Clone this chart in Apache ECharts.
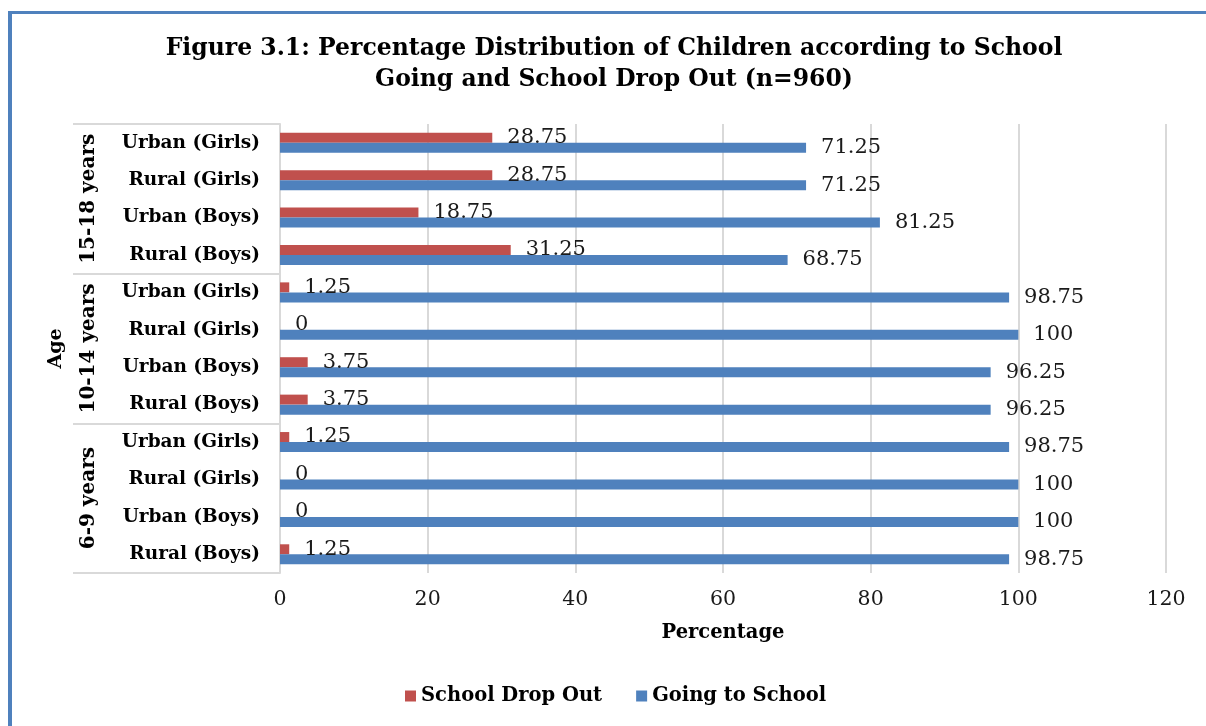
<!DOCTYPE html>
<html>
<head>
<meta charset="utf-8">
<title>Figure 3.1</title>
<script src="https://cdn.jsdelivr.net/npm/echarts@6/dist/echarts.min.js"></script>
<style>
  html, body { margin: 0; padding: 0; background: #fff; }
  #chart { width: 1206px; height: 726px; }
  #frame {
    position: absolute; left: 8px; top: 11px; width: 1198px; height: 715px;
    border-left: 4px solid #4F81BD; border-top: 3px solid #4F81BD;
    box-sizing: border-box; pointer-events: none;
  }
</style>
</head>
<body>
<div id="chart"></div>
<div id="frame"></div>
<script>
// rows listed top to bottom
const categories = [
  'Urban (Girls)', 'Rural (Girls)', 'Urban (Boys)', 'Rural (Boys)',
  'Urban (Girls)', 'Rural (Girls)', 'Urban (Boys)', 'Rural (Boys)',
  'Urban (Girls)', 'Rural (Girls)', 'Urban (Boys)', 'Rural (Boys)'
]
const ageGroups = ['15-18 years', '10-14 years', '6-9 years']
const dropOut = [28.75, 28.75, 18.75, 31.25, 1.25, 0, 3.75, 3.75, 1.25, 0, 0, 1.25]
const goingToSchool = [71.25, 71.25, 81.25, 68.75, 98.75, 100, 96.25, 96.25, 98.75, 100, 100, 98.75]
const xTicks = { min: 0, max: 120, interval: 20 }

const FONT = 'DejaVu Serif'
const chart = echarts.init(document.getElementById('chart'))

const labelStyle = {
  show: true,
  position: 'right',
  distance: 15,
  fontFamily: FONT,
  fontSize: 21,
  color: '#1a1a1a',
}

chart.setOption({
  backgroundColor: '#fff',
  title: {
    text: 'Figure 3.1: Percentage Distribution of Children according to School\nGoing and School Drop Out (n=960)',
    left: 609,
    top: 28,
    textAlign: 'center',
    textVerticalAlign: 'top',
    textStyle: {
      fontFamily: FONT,
      fontSize: 23.5,
      fontWeight: 'bold',
      lineHeight: 31,
      color: '#000',
    },
  },
  legend: {
    data: ['School Drop Out', 'Going to School'],
    top: 681,
    left: 400,
    icon: 'rect',
    itemWidth: 11,
    itemHeight: 11,
    itemGap: 34,
    textStyle: { fontFamily: FONT, fontSize: 19.5, fontWeight: 'bold', color: '#000' },
  },
  grid: { left: 280, right: 40, top: 124, bottom: 153 },
  xAxis: {
    type: 'value',
    min: xTicks.min,
    max: xTicks.max,
    interval: xTicks.interval,
    name: 'Percentage',
    nameLocation: 'middle',
    nameGap: 50,
    nameTextStyle: { fontFamily: FONT, fontSize: 19.5, fontWeight: 'bold', color: '#000' },
    axisLine: { show: false },
    axisTick: { show: false },
    axisLabel: { fontFamily: FONT, fontSize: 20.5, color: '#1a1a1a', margin: 16 },
    splitLine: { show: true, lineStyle: { color: '#D9D9D9', width: 2 } },
  },
  yAxis: [
    {
      type: 'category',
      inverse: true,
      data: categories,
      axisLine: { show: false },
      axisTick: { show: false },
      axisLabel: { interval: 0, fontFamily: FONT, fontSize: 18.5, fontWeight: 'bold', color: '#000', margin: 20 },
    },
    {
      type: 'category',
      inverse: true,
      position: 'left',
      data: ageGroups,
      name: 'Age',
      nameLocation: 'middle',
      nameRotate: 90,
      nameGap: 214,
      nameTextStyle: { fontFamily: FONT, fontSize: 19, fontWeight: 'bold', color: '#000' },
      axisLine: { show: true, lineStyle: { color: '#D9D9D9', width: 2 } },
      axisTick: { show: true, interval: 0, length: 207, lineStyle: { color: '#D9D9D9', width: 2 } },
      axisLabel: { interval: 0, rotate: 90, fontFamily: FONT, fontSize: 20, fontWeight: 'bold', color: '#000', margin: 181 },
      splitLine: { show: false },
    },
  ],
  series: [
    {
      name: 'School Drop Out',
      type: 'bar',
      data: dropOut,
      barWidth: 10,
      barGap: '0%',
      itemStyle: { color: '#C0504D' },
      label: labelStyle,
    },
    {
      name: 'Going to School',
      type: 'bar',
      data: goingToSchool,
      barWidth: 10,
      barGap: '0%',
      itemStyle: { color: '#4F81BD' },
      label: labelStyle,
    },
  ],
})

window.addEventListener('resize', () => chart.resize())
</script>
</body>
</html>
